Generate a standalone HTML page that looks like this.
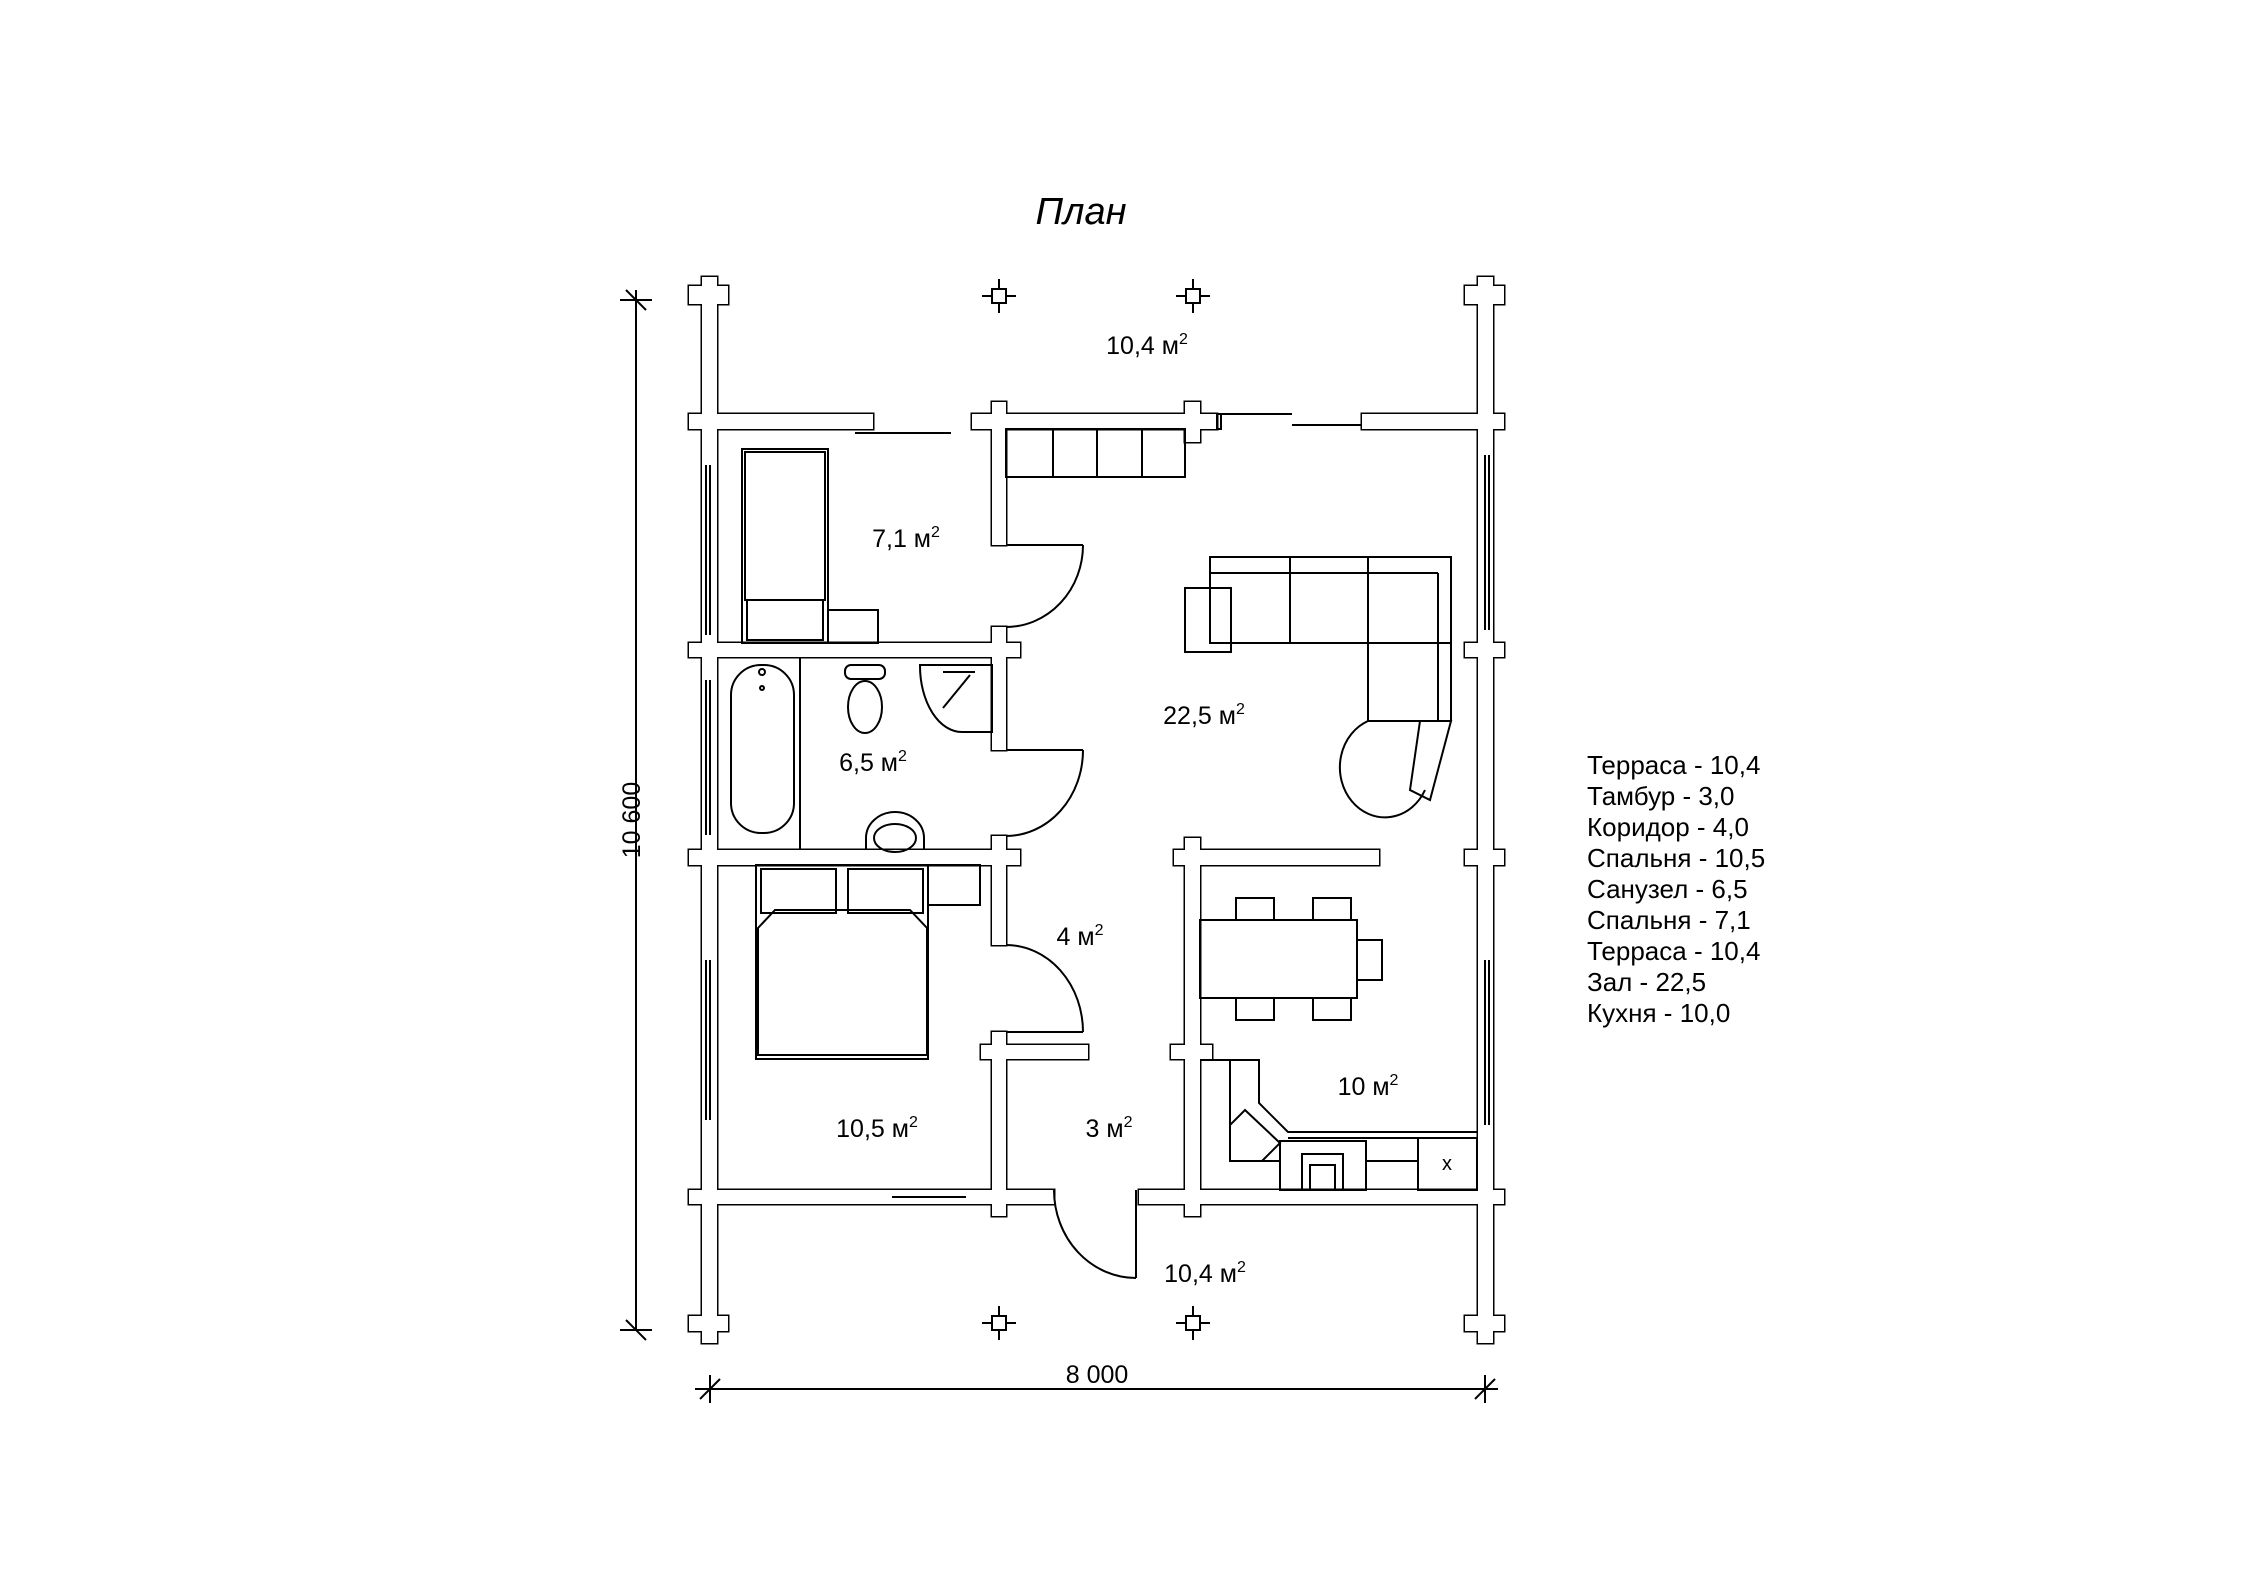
<!DOCTYPE html>
<html><head><meta charset="utf-8"><style>
html,body{margin:0;padding:0;background:#fff;}
svg{display:block;}
text{font-family:"Liberation Sans","DejaVu Sans",sans-serif;fill:#000;}
</style></head><body>
<svg width="2245" height="1587" viewBox="0 0 2245 1587" xmlns="http://www.w3.org/2000/svg">
<rect width="2245" height="1587" fill="#fff"/>
<text x="1081" y="224" font-size="38" font-style="italic" text-anchor="middle">План</text>

<g stroke="#000" stroke-width="3" fill="#fff">
<rect x="702" y="277" width="15" height="1066"/>
<rect x="1478" y="277" width="15" height="1066"/>
<rect x="689" y="286" width="39" height="18"/>
<rect x="1465" y="286" width="39" height="18"/>
<rect x="689" y="1316" width="39" height="15"/>
<rect x="1465" y="1316" width="39" height="15"/>
<rect x="689" y="414" width="184" height="15"/>
<rect x="972" y="414" width="245" height="15"/>
<rect x="992" y="402" width="14" height="143"/>
<rect x="1185" y="402" width="15" height="40"/>
<rect x="1362" y="414" width="142" height="15"/>
<rect x="992" y="627" width="14" height="123"/>
<rect x="992" y="836" width="14" height="109"/>
<rect x="992" y="1032" width="14" height="184"/>
<rect x="1185" y="838" width="15" height="378"/>
<rect x="689" y="643" width="331" height="14"/>
<rect x="689" y="850" width="331" height="15"/>
<rect x="1465" y="643" width="39" height="14"/>
<rect x="1465" y="850" width="39" height="15"/>
<rect x="1174" y="850" width="205" height="15"/>
<rect x="981" y="1045" width="107" height="14"/>
<rect x="1171" y="1045" width="41" height="14"/>
<rect x="689" y="1190" width="365" height="14"/>
<rect x="1139" y="1190" width="365" height="14"/>
<rect x="1465" y="1190" width="39" height="14"/>
</g>
<g stroke="none" fill="#fff">
<rect x="702" y="277" width="15" height="1066"/>
<rect x="1478" y="277" width="15" height="1066"/>
<rect x="689" y="286" width="39" height="18"/>
<rect x="1465" y="286" width="39" height="18"/>
<rect x="689" y="1316" width="39" height="15"/>
<rect x="1465" y="1316" width="39" height="15"/>
<rect x="689" y="414" width="184" height="15"/>
<rect x="972" y="414" width="245" height="15"/>
<rect x="992" y="402" width="14" height="143"/>
<rect x="1185" y="402" width="15" height="40"/>
<rect x="1362" y="414" width="142" height="15"/>
<rect x="992" y="627" width="14" height="123"/>
<rect x="992" y="836" width="14" height="109"/>
<rect x="992" y="1032" width="14" height="184"/>
<rect x="1185" y="838" width="15" height="378"/>
<rect x="689" y="643" width="331" height="14"/>
<rect x="689" y="850" width="331" height="15"/>
<rect x="1465" y="643" width="39" height="14"/>
<rect x="1465" y="850" width="39" height="15"/>
<rect x="1174" y="850" width="205" height="15"/>
<rect x="981" y="1045" width="107" height="14"/>
<rect x="1171" y="1045" width="41" height="14"/>
<rect x="689" y="1190" width="365" height="14"/>
<rect x="1139" y="1190" width="365" height="14"/>
<rect x="1465" y="1190" width="39" height="14"/>
</g>

<g stroke="#000" stroke-width="2" fill="none">
<rect x="992" y="289" width="14" height="14"/><line x1="999" y1="279" x2="999" y2="289"/><line x1="999" y1="303" x2="999" y2="313"/><line x1="982" y1="296" x2="992" y2="296"/><line x1="1006" y1="296" x2="1016" y2="296"/>
<rect x="1186" y="289" width="14" height="14"/><line x1="1193" y1="279" x2="1193" y2="289"/><line x1="1193" y1="303" x2="1193" y2="313"/><line x1="1176" y1="296" x2="1186" y2="296"/><line x1="1200" y1="296" x2="1210" y2="296"/>
<rect x="992" y="1316" width="14" height="14"/><line x1="999" y1="1306" x2="999" y2="1316"/><line x1="999" y1="1330" x2="999" y2="1340"/><line x1="982" y1="1323" x2="992" y2="1323"/><line x1="1006" y1="1323" x2="1016" y2="1323"/>
<rect x="1186" y="1316" width="14" height="14"/><line x1="1193" y1="1306" x2="1193" y2="1316"/><line x1="1193" y1="1330" x2="1193" y2="1340"/><line x1="1176" y1="1323" x2="1186" y2="1323"/><line x1="1200" y1="1323" x2="1210" y2="1323"/>
<line x1="855" y1="433" x2="951" y2="433"/>
<line x1="1217" y1="414" x2="1292" y2="414"/>
<line x1="1292" y1="425" x2="1362" y2="425"/>
<rect x="1217" y="414" width="4" height="15"/>
<line x1="710" y1="465" x2="710" y2="635"/><line x1="706" y1="465" x2="706" y2="635"/>
<line x1="710" y1="680" x2="710" y2="835"/><line x1="706" y1="680" x2="706" y2="835"/>
<line x1="710" y1="960" x2="710" y2="1120"/><line x1="706" y1="960" x2="706" y2="1120"/>
<line x1="1485" y1="455" x2="1485" y2="630"/><line x1="1489" y1="455" x2="1489" y2="630"/>
<line x1="1485" y1="960" x2="1485" y2="1125"/><line x1="1489" y1="960" x2="1489" y2="1125"/>
<line x1="892" y1="1197" x2="966" y2="1197"/>
<line x1="1006" y1="545" x2="1083" y2="545"/><path d="M1083,545 A77,82 0 0 1 1006,627"/>
<line x1="1006" y1="750" x2="1083" y2="750"/><path d="M1083,750 A77,86 0 0 1 1006,836"/>
<path d="M1006,945 A77,87 0 0 1 1083,1032"/><line x1="1006" y1="1032" x2="1083" y2="1032"/>
<line x1="1136" y1="1190" x2="1136" y2="1278"/><path d="M1054,1190 A82,88 0 0 0 1136,1278"/>
<rect x="1006" y="429" width="179" height="48"/>
<line x1="1053" y1="429" x2="1053" y2="477"/><line x1="1097" y1="429" x2="1097" y2="477"/><line x1="1142" y1="429" x2="1142" y2="477"/>
<rect x="742" y="449" width="86" height="194"/>
<rect x="745" y="452" width="80" height="148"/>
<rect x="747" y="600" width="76" height="40"/>
<rect x="828" y="610" width="50" height="33"/>
<rect x="731" y="665" width="63" height="168" rx="30"/>
<line x1="800" y1="657" x2="800" y2="850"/>
<circle cx="762" cy="672" r="3"/><circle cx="762" cy="688" r="2"/>
<ellipse cx="865" cy="707" rx="17" ry="26"/>
<rect x="845" y="665" width="40" height="14" rx="6"/>
<path d="M920,665 L992,665 L992,732 L962,732 A42,66 0 0 1 920,666 Z"/>
<line x1="943" y1="672" x2="975" y2="672"/><line x1="943" y1="708" x2="970" y2="675"/>
<path d="M866,850 L866,838 A29,26 0 0 1 924,838 L924,850"/>
<ellipse cx="895" cy="838" rx="21" ry="14"/>
<rect x="1210" y="557" width="241" height="86"/>
<line x1="1210" y1="573" x2="1438" y2="573"/><line x1="1438" y1="573" x2="1438" y2="721"/>
<line x1="1290" y1="557" x2="1290" y2="643"/><line x1="1368" y1="557" x2="1368" y2="643"/>
<rect x="1368" y="643" width="83" height="78"/>
<rect x="1185" y="588" width="46" height="64"/>
<path d="M1368,721 A45,50 0 1 0 1425,790"/>
<path d="M1420,721 L1451,721 L1430,800 L1410,790 Z"/>
<rect x="756" y="865" width="172" height="194"/>
<rect x="761" y="869" width="75" height="44"/><rect x="848" y="869" width="75" height="44"/>
<path d="M758,928 L775,910 L910,910 L927,928 L927,1055 L758,1055 Z"/>
<rect x="928" y="865" width="52" height="40"/>
<rect x="1200" y="920" width="157" height="78"/>
<rect x="1236" y="898" width="38" height="22"/><rect x="1313" y="898" width="38" height="22"/>
<rect x="1236" y="998" width="38" height="22"/><rect x="1313" y="998" width="38" height="22"/>
<rect x="1357" y="940" width="25" height="40"/>
<path d="M1200,1060 L1259,1060 L1259,1103 L1288,1132 L1477,1132"/>
<line x1="1230" y1="1060" x2="1230" y2="1161"/>
<line x1="1288" y1="1138" x2="1477" y2="1138"/>
<path d="M1245,1110 L1280,1143 L1262,1161 L1230,1161 L1230,1125 Z"/>
<rect x="1280" y="1141" width="86" height="49"/>
<rect x="1302" y="1154" width="41" height="36"/>
<rect x="1310" y="1165" width="25" height="25"/>
<line x1="1230" y1="1161" x2="1280" y2="1161"/><line x1="1366" y1="1161" x2="1418" y2="1161"/>
<rect x="1418" y="1138" width="59" height="52"/>
<line x1="636" y1="290" x2="636" y2="1330"/>
<line x1="620" y1="300" x2="652" y2="300"/><line x1="626" y1="290" x2="646" y2="310"/>
<line x1="620" y1="1330" x2="652" y2="1330"/><line x1="626" y1="1320" x2="646" y2="1340"/>
<line x1="695" y1="1389" x2="1498" y2="1389"/>
<line x1="710" y1="1375" x2="710" y2="1403"/><line x1="700" y1="1399" x2="720" y2="1379"/>
<line x1="1485" y1="1375" x2="1485" y2="1403"/><line x1="1475" y1="1399" x2="1495" y2="1379"/>
</g>
<text x="1447" y="1170" font-size="20" text-anchor="middle">x</text>
<text x="1097" y="1383" font-size="25" text-anchor="middle">8 000</text>
<text transform="translate(640,820) rotate(-90)" font-size="25" text-anchor="middle">10 600</text>

<g font-size="25" text-anchor="middle">
<text x="1147" y="354">10,4 м<tspan font-size="16" dy="-10">2</tspan></text>
<text x="906" y="547">7,1 м<tspan font-size="16" dy="-10">2</tspan></text>
<text x="1204" y="724">22,5 м<tspan font-size="16" dy="-10">2</tspan></text>
<text x="873" y="771">6,5 м<tspan font-size="16" dy="-10">2</tspan></text>
<text x="1080" y="945">4 м<tspan font-size="16" dy="-10">2</tspan></text>
<text x="1368" y="1095">10 м<tspan font-size="16" dy="-10">2</tspan></text>
<text x="877" y="1137">10,5 м<tspan font-size="16" dy="-10">2</tspan></text>
<text x="1109" y="1137">3 м<tspan font-size="16" dy="-10">2</tspan></text>
<text x="1205" y="1282">10,4 м<tspan font-size="16" dy="-10">2</tspan></text>
</g>
<g font-size="26">
<text x="1587" y="774">Терраса - 10,4</text>
<text x="1587" y="805">Тамбур - 3,0</text>
<text x="1587" y="836">Коридор - 4,0</text>
<text x="1587" y="867">Спальня - 10,5</text>
<text x="1587" y="898">Санузел - 6,5</text>
<text x="1587" y="929">Спальня - 7,1</text>
<text x="1587" y="960">Терраса - 10,4</text>
<text x="1587" y="991">Зал - 22,5</text>
<text x="1587" y="1022">Кухня - 10,0</text>
</g>
</svg>
</body></html>
